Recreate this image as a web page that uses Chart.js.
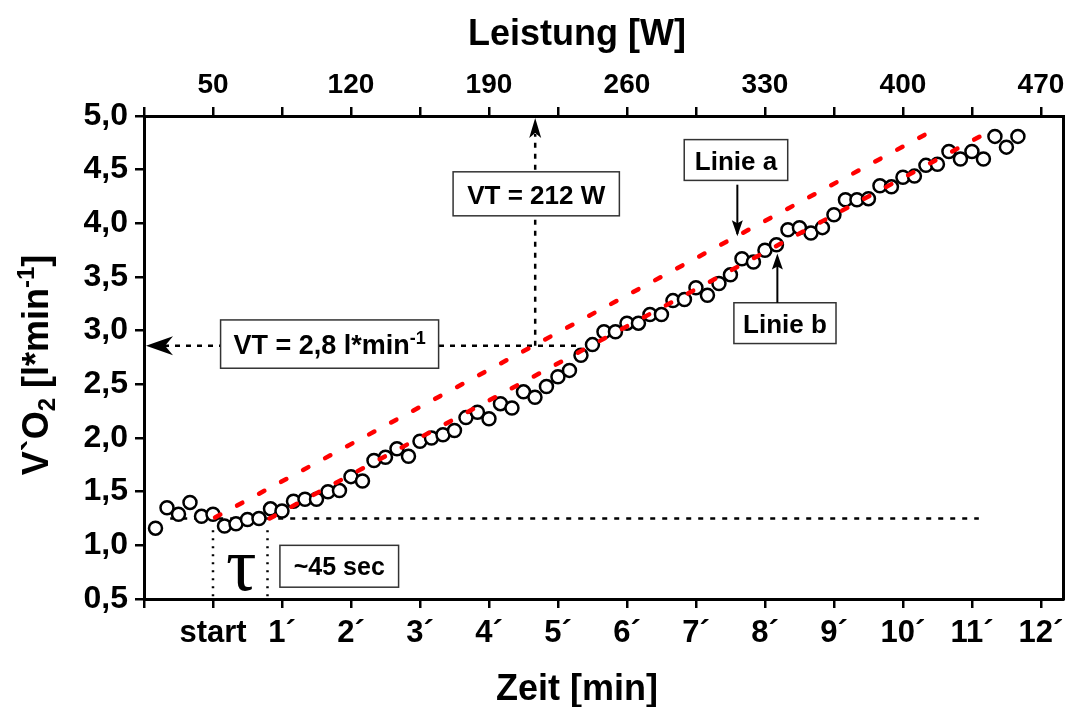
<!DOCTYPE html>
<html lang="de">
<head>
<meta charset="UTF-8">
<title>VO2 Verlauf</title>
<script src="https://cdn.jsdelivr.net/npm/chart.js@4.4.1/dist/chart.umd.min.js"></script>
<style>
    html, body { margin: 0; padding: 0; background: #fff; }
    #wrap { width: 1072px; height: 707px; }
</style>
</head>
<body>
<div id="wrap"><canvas id="grafico" width="1072" height="707"></canvas></div>
<script>
// Messzeitpunkte in Sekunden relativ zum Start der Belastung
const zeitSek = [
    -50, -40, -30, -20, -10, 0, 10, 20, 30, 40, 50, 60, 70, 80, 90, 100, 110, 120, 130, 140,
    150, 160, 170, 180, 190, 200, 210, 220, 230, 240, 250, 260, 270, 280, 290, 300, 310, 320, 330, 340,
    350, 360, 370, 380, 390, 400, 410, 420, 430, 440, 450, 460, 470, 480, 490, 500, 510, 520, 530, 540,
    550, 560, 570, 580, 590, 600, 610, 620, 630, 640, 650, 660, 670, 680, 690, 700
];
// VO2 in l/min
const vo2 = [
    1.16, 1.35, 1.29, 1.40, 1.27, 1.29, 1.18, 1.20, 1.24, 1.25, 1.34, 1.32, 1.41, 1.43, 1.43, 1.50, 1.51, 1.64, 1.60, 1.79,
    1.82, 1.90, 1.83, 1.97, 2.00, 2.03, 2.07, 2.19, 2.24, 2.18, 2.32, 2.28, 2.43, 2.38, 2.48, 2.57, 2.63, 2.77, 2.87, 2.99,
    2.99, 3.07, 3.07, 3.15, 3.15, 3.28, 3.29, 3.40, 3.33, 3.44, 3.52, 3.67, 3.64, 3.75, 3.80, 3.94, 3.96, 3.91, 3.96, 4.08,
    4.22, 4.22, 4.23, 4.35, 4.34, 4.43, 4.44, 4.54, 4.55, 4.67, 4.60, 4.67, 4.60, 4.81, 4.71, 4.81
];
// Geraden (Zeit in min, VO2 in l/min)
const linieAZeit = [0.03, 10.36];
const linieAVo2 = [1.26, 4.84];
const linieBZeit = [0.82, 11.35];
const linieBVo2 = [1.25, 4.89];
// Achsen
const zeitMin = -1, zeitMax = 12.32;
const zeitTicks = [-1, 0, 1, 2, 3, 4, 5, 6, 7, 8, 9, 10, 11, 12];
const vo2Min = 0.5, vo2Max = 5.0;
const leistungBeiStart = 50;   // W bei 0 min
const leistungProMin = 35;     // W pro min
// Schwellen
const vtVo2 = 2.86;
const vtZeit = 4.67;
const basisVo2 = 1.25;
const tauZeit = 0.79;

const FONT = '"Liberation Sans", Arial, sans-serif';

const punkte = zeitSek.map((s, i) => ({ x: s / 60, y: vo2[i] }));
const linieA = linieAZeit.map((t, i) => ({ x: t, y: linieAVo2[i] }));
const linieB = linieBZeit.map((t, i) => ({ x: t, y: linieBVo2[i] }));

function richText(ctx, parts, x, y, size) {
    // parts: [text, 'n'|'sub'|'sup']
    const w = parts.map(p => {
        ctx.font = 'bold ' + (p[1] === 'n' ? size : Math.round(size * 0.68)) + 'px ' + FONT;
        return ctx.measureText(p[0]).width;
    });
    let cx = x - w.reduce((a, b) => a + b, 0) / 2;
    ctx.textAlign = 'left';
    ctx.textBaseline = 'alphabetic';
    parts.forEach((p, i) => {
        ctx.font = 'bold ' + (p[1] === 'n' ? size : Math.round(size * 0.68)) + 'px ' + FONT;
        let dy = 0;
        if (p[1] === 'sub') dy = size * 0.2;
        if (p[1] === 'sup') dy = -size * 0.38;
        ctx.fillText(p[0], cx, y + dy);
        cx += w[i];
    });
}

function box(ctx, x0, y0, x1, y1) {
    ctx.save();
    ctx.fillStyle = '#fff';
    ctx.strokeStyle = '#333';
    ctx.lineWidth = 1.5;
    ctx.fillRect(x0, y0, x1 - x0, y1 - y0);
    ctx.strokeRect(x0, y0, x1 - x0, y1 - y0);
    ctx.restore();
}

function pfeilKopf(ctx, tx, ty, dirX, dirY, len, half, notch) {
    const px = -dirY, py = dirX;
    ctx.beginPath();
    ctx.moveTo(tx, ty);
    ctx.lineTo(tx - dirX * len + px * half, ty - dirY * len + py * half);
    ctx.lineTo(tx - dirX * (len - notch), ty - dirY * (len - notch));
    ctx.lineTo(tx - dirX * len - px * half, ty - dirY * len - py * half);
    ctx.closePath();
    ctx.fill();
}

function linie(ctx, x0, y0, x1, y1, dash, width) {
    ctx.save();
    ctx.setLineDash(dash);
    ctx.lineWidth = width;
    ctx.strokeStyle = '#000';
    ctx.beginPath();
    ctx.moveTo(x0, y0);
    ctx.lineTo(x1, y1);
    ctx.stroke();
    ctx.restore();
}

const annotationen = {
    id: 'annotationen',
    beforeDatasetsDraw(chart) {
        const ctx = chart.ctx;
        const X = v => chart.scales.x.getPixelForValue(v);
        const Y = v => chart.scales.y.getPixelForValue(v);
        // Basislinie
        linie(ctx, X(-0.62), Y(basisVo2), X(11.1), Y(basisVo2), [5, 7], 2.5);
        // Tau
        linie(ctx, X(0), Y(1.14), X(0), Y(0.5), [2, 6], 2.5);
        linie(ctx, X(tauZeit), Y(1.14), X(tauZeit), Y(0.5), [2, 6], 2.5);
        // VT Linien
        linie(ctx, X(zeitMin) + 20, Y(vtVo2), X(5.3), Y(vtVo2), [5, 6], 2.5);
        linie(ctx, X(vtZeit), Y(vtVo2), X(vtZeit), Y(vo2Max) + 18, [5, 6], 2.5);
        ctx.fillStyle = '#000';
        pfeilKopf(ctx, X(zeitMin) + 2, Y(vtVo2), -1, 0, 27, 9.5, 8);
        pfeilKopf(ctx, X(vtZeit), Y(vo2Max) + 2, 0, -1, 20, 6, 5);
    },
    afterDatasetsDraw(chart) {
        const ctx = chart.ctx;
        const X = v => chart.scales.x.getPixelForValue(v);
        const Y = v => chart.scales.y.getPixelForValue(v);
        ctx.save();
        ctx.fillStyle = '#000';

        box(ctx, X(0.11), Y(3.10), X(3.27), Y(2.65));
        ctx.fillStyle = '#000';
        richText(ctx, [['VT = 2,8 l*min', 'n'], ['-1', 'sup']], (X(0.11) + X(3.27)) / 2, Y(2.875) + 10, 27);

        box(ctx, X(3.48), Y(4.48), X(5.89), Y(4.07));
        ctx.fillStyle = '#000';
        richText(ctx, [['VT = 212 W', 'n']], (X(3.48) + X(5.89)) / 2, Y(4.275) + 10, 26);

        box(ctx, X(6.83), Y(4.78), X(8.33), Y(4.40));
        ctx.fillStyle = '#000';
        richText(ctx, [['Linie a', 'n']], (X(6.83) + X(8.33)) / 2, Y(4.59) + 10, 26);
        linie(ctx, X(7.6), Y(4.36), X(7.6), Y(3.90), [], 2);
        pfeilKopf(ctx, X(7.6), Y(3.88), 0, 1, 16, 5.5, 3);

        box(ctx, X(7.55), Y(3.26), X(9.03), Y(2.88));
        ctx.fillStyle = '#000';
        richText(ctx, [['Linie b', 'n']], (X(7.55) + X(9.03)) / 2, Y(3.07) + 10, 26);
        linie(ctx, X(8.18), Y(3.26), X(8.18), Y(3.68), [], 2);
        pfeilKopf(ctx, X(8.18), Y(3.72), 0, -1, 16, 5.5, 3);

        box(ctx, X(0.97), Y(1.00), X(2.69), Y(0.61));
        ctx.fillStyle = '#000';
        richText(ctx, [['~45 sec', 'n']], (X(0.97) + X(2.69)) / 2, Y(0.805) + 9, 25);

        ctx.font = '76px "Liberation Serif", "DejaVu Serif", serif';
        ctx.textAlign = 'center';
        ctx.textBaseline = 'alphabetic';
        ctx.fillText('\u03C4', X(0.41), Y(0.58));
        ctx.restore();
    },
    afterDraw(chart) {
        const ctx = chart.ctx;
        ctx.save();
        ctx.fillStyle = '#000';
        richText(ctx, [['Leistung [W]', 'n']], 577, 45, 36);
        richText(ctx, [['Zeit [min]', 'n']], 577, 700, 36);
        ctx.translate(48, 365);
        ctx.rotate(-Math.PI / 2);
        richText(ctx, [['V`O', 'n'], ['2', 'sub'], [' [l*min', 'n'], ['-1', 'sup'], [']', 'n']], 0, 0, 36);
        ctx.restore();
    }
};

const gridStil = {
    drawOnChartArea: false,
    drawTicks: true,
    tickLength: 9,
    tickWidth: 2.5,
    tickColor: '#000',
    color: '#000',
    lineWidth: 2.5
};
const randStil = { display: true, color: '#000', width: 3 };
const zeitTickListe = s => { s.ticks = zeitTicks.map(v => ({ value: v })); };
const keinRand = s => { s.paddingLeft = 0; s.paddingRight = 0; s.paddingTop = 0; s.paddingBottom = 0; };

new Chart(document.getElementById('grafico'), {
    type: 'scatter',
    data: {
        datasets: [
            {
                label: 'Linie a',
                data: linieA,
                showLine: true,
                borderColor: '#ff0000',
                borderWidth: 4.5,
                borderDash: [6, 19],
                borderCapStyle: 'round',
                pointRadius: 0,
                order: 0
            },
            {
                label: 'Linie b',
                data: linieB,
                showLine: true,
                borderColor: '#ff0000',
                borderWidth: 4.5,
                borderDash: [6, 19],
                borderCapStyle: 'round',
                pointRadius: 0,
                order: 0
            },
            {
                label: 'VO2',
                data: punkte,
                showLine: false,
                pointRadius: 6.5,
                pointBorderWidth: 2.5,
                pointBackgroundColor: '#fff',
                pointBorderColor: '#000',
                order: 1
            }
        ]
    },
    options: {
        responsive: false,
        animation: false,
        devicePixelRatio: 1,
        layout: { padding: 0 },
        plugins: {
            legend: { display: false },
            tooltip: { enabled: false }
        },
        scales: {
            x: {
                type: 'linear',
                position: 'bottom',
                min: zeitMin,
                max: zeitMax,
                afterBuildTicks: zeitTickListe,
                afterFit: s => { keinRand(s); s.height = 108; },
                ticks: {
                    autoSkip: false,
                    maxRotation: 0,
                    color: '#000',
                    font: { family: FONT, size: 31, weight: 'bold' },
                    padding: 7,
                    callback: v => v < 0 ? '' : (v === 0 ? 'start' : v + '\u00B4')
                },
                grid: gridStil,
                border: randStil
            },
            x2: {
                type: 'linear',
                position: 'top',
                min: zeitMin,
                max: zeitMax,
                afterBuildTicks: zeitTickListe,
                afterFit: s => { keinRand(s); s.height = 116; },
                ticks: {
                    autoSkip: false,
                    maxRotation: 0,
                    color: '#000',
                    font: { family: FONT, size: 28, weight: 'bold' },
                    padding: 5,
                    callback: v => (v >= 0 && v % 2 === 0) ? String(leistungBeiStart + leistungProMin * v) : ''
                },
                grid: gridStil,
                border: randStil
            },
            y: {
                type: 'linear',
                min: vo2Min,
                max: vo2Max,
                afterFit: s => { keinRand(s); s.width = 144; },
                ticks: {
                    stepSize: 0.5,
                    color: '#000',
                    font: { family: FONT, size: 32, weight: 'bold' },
                    padding: 7,
                    callback: v => v.toFixed(1).replace('.', ',')
                },
                grid: gridStil,
                border: randStil
            },
            y2: {
                type: 'linear',
                position: 'right',
                min: 0,
                max: 1,
                afterFit: s => { keinRand(s); s.width = 9; },
                ticks: { display: false },
                grid: { display: false, drawTicks: false },
                border: randStil
            }
        }
    },
    plugins: [annotationen]
});
</script>
</body>
</html>
